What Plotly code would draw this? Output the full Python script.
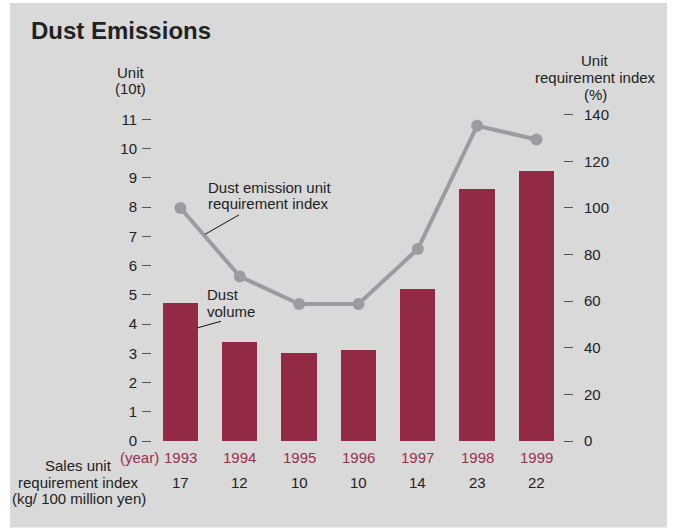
import plotly.graph_objects as go

# Data
years = ["1993", "1994", "1995", "1996", "1997", "1998", "1999"]
dust_volume = [4.72, 3.40, 3.02, 3.12, 5.21, 8.63, 9.24]          # unit: 10t
unit_req_index = [100, 70.6, 58.8, 58.8, 82.4, 135.3, 129.4]      # %
sales_unit_req = [17, 12, 10, 10, 14, 23, 22]                      # kg / 100 million yen
left_ticks = list(range(0, 12))
right_ticks = list(range(0, 141, 20))

# Page / plot geometry (pixels)
W, H = 673, 529
PL, PR, PT, PB = 152, 563, 100, 441.4
BG = "#D9D9D9"
BAR = "#922A45"
LINE = "#9C9CA0"
YEAR_C = "#9A3050"
TXT = "#222222"
FONT = "Liberation Sans, Arial, Helvetica, sans-serif"
FS = 15


def px(x):
    return (x - PL) / (PR - PL)


def py(y):
    return (PB - y) / (PB - PT)


fig = go.Figure()
fig.add_trace(go.Bar(
    x=years, y=dust_volume, marker=dict(color=BAR, line=dict(width=0)),
    width=0.595, yaxis="y", hoverinfo="skip",
))
fig.add_trace(go.Scatter(
    x=years, y=unit_req_index, yaxis="y2", mode="lines+markers",
    line=dict(color=LINE, width=4), marker=dict(color=LINE, size=12),
    hoverinfo="skip",
))

annotations = []


def text_block(lines, x, ys, anchor, color=TXT):
    """Place each line of a text block at its own pixel row."""
    for line, y in zip(lines, ys):
        annotations.append(dict(x=px(x), y=py(y), xref="paper", yref="paper",
                                text=line, showarrow=False, xanchor=anchor,
                                yanchor="middle",
                                font=dict(size=FS, color=color, family=FONT)))


# title
annotations.append(dict(x=px(29), y=py(30), xref="paper", yref="paper",
                        text="<b>Dust Emissions</b>", showarrow=False,
                        xanchor="left", yanchor="middle",
                        font=dict(size=24, color=TXT, family=FONT)))
# axis titles
text_block(["Unit", "(10t)"], 130.5, [72, 88], "center")
text_block(["Unit", "requirement index", "(%)"], 595, [60, 77, 94], "center")
# series labels
text_block(["Dust emission unit", "requirement index"], 206, [188, 204], "left")
text_block(["Dust", "volume"], 205, [295, 312], "left")
# year row and sales unit requirement row
text_block(["(year)"], 161, [458], "right", YEAR_C)
for i, (yr, v) in enumerate(zip(years, sales_unit_req)):
    annotations.append(dict(x=i, y=py(458), xref="x", yref="paper", text=yr,
                            showarrow=False, xanchor="center", yanchor="middle",
                            font=dict(size=FS, color=YEAR_C, family=FONT)))
    annotations.append(dict(x=i, y=py(483), xref="x", yref="paper",
                            text=str(v), showarrow=False, xanchor="center",
                            yanchor="middle",
                            font=dict(size=FS, color=TXT, family=FONT)))
text_block(["Sales unit", "requirement index", "(kg/ 100 million yen)"],
           78.5, [466, 483, 499], "center")

shapes = [
    # gray panel behind everything
    dict(type="rect", xref="paper", yref="paper", layer="below",
         x0=px(10), x1=px(667), y0=py(528), y1=py(3),
         fillcolor=BG, line=dict(width=0)),
    # leader lines for the series labels
    dict(type="line", xref="paper", yref="paper",
         x0=px(239), y0=py(215), x1=px(205), y1=py(234.5),
         line=dict(color="#111111", width=1)),
    dict(type="line", xref="paper", yref="paper",
         x0=px(221), y0=py(321.5), x1=px(198), y1=py(328),
         line=dict(color="#111111", width=1)),
]

fig.update_layout(
    width=W, height=H,
    margin=dict(l=PL, r=W - PR, t=PT, b=H - PB, pad=0),
    paper_bgcolor="white", plot_bgcolor="rgba(0,0,0,0)",
    showlegend=False, bargap=0,
    font=dict(family=FONT, size=FS, color=TXT),
    xaxis=dict(type="category", range=[-0.48, 6.447], showticklabels=False,
               ticks="", showline=False, showgrid=False, zeroline=False,
               fixedrange=True),
    yaxis=dict(range=[0, (PB - PT) / 29.26], tickvals=left_ticks,
               ticks="outside", ticklen=9, tickwidth=1.3, tickcolor="#555555",
               showline=False, showgrid=False, zeroline=False,
               tickfont=dict(size=FS, color=TXT, family=FONT),
               ticklabelstandoff=2),
    yaxis2=dict(range=[0, (PB - PT) / 2.333], tickvals=right_ticks,
                overlaying="y", side="right",
                ticks="outside", ticklen=9, tickwidth=1.3, tickcolor="#555555",
                showline=False, showgrid=False, zeroline=False,
                tickfont=dict(size=FS, color=TXT, family=FONT),
                ticklabelstandoff=8),
    annotations=annotations,
    shapes=shapes,
)

fig.write_html("out.html")
